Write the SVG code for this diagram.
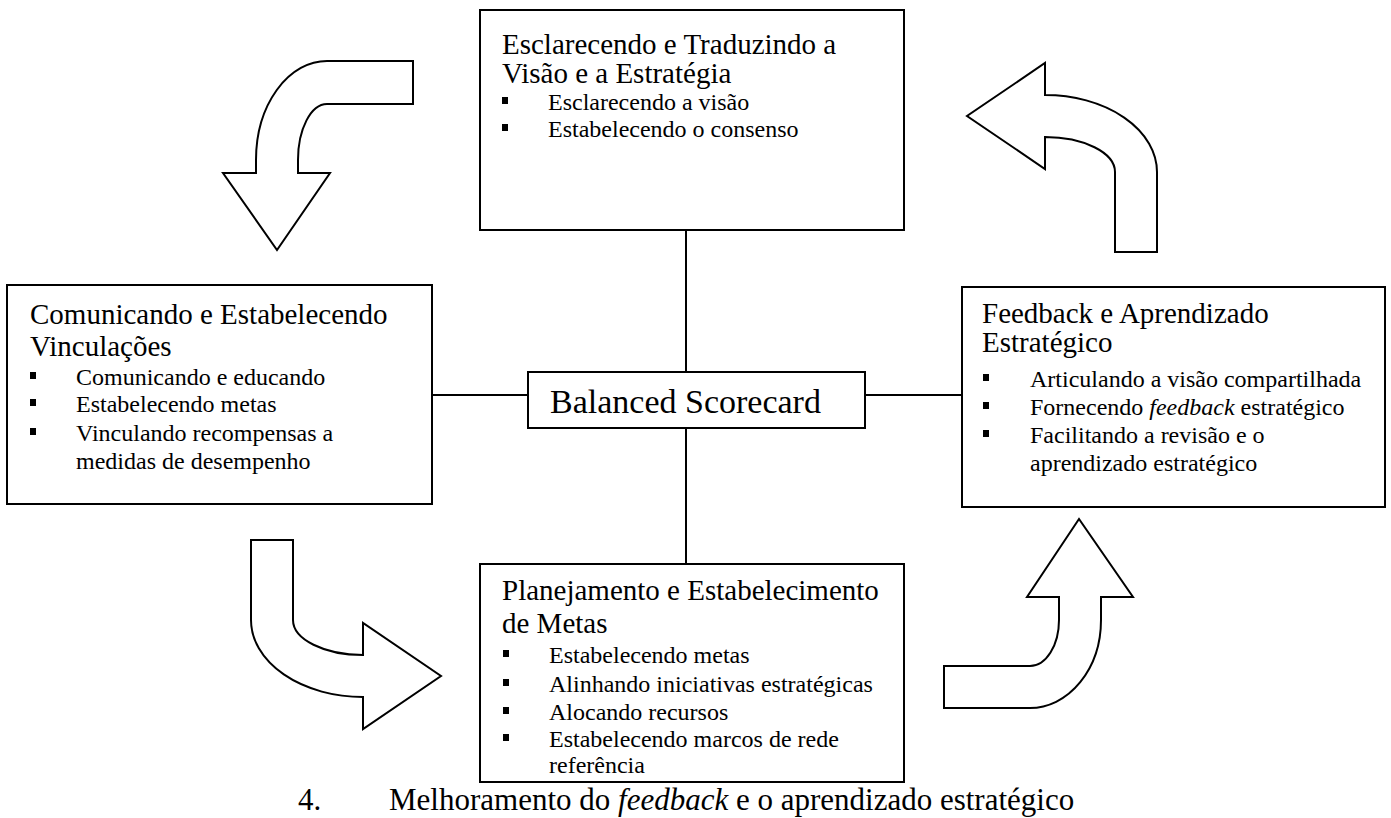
<svg xmlns="http://www.w3.org/2000/svg" width="1391" height="818" viewBox="0 0 1391 818">
  <style>
    .bsc-box { fill: #ffffff; stroke: #000000; stroke-width: 2; }
    .bsc-link { stroke: #000000; stroke-width: 2; fill: none; }
    .bsc-arrow { fill: #ffffff; stroke: #000000; stroke-width: 2; stroke-linejoin: miter; }
    .bsc-dot { fill: #000000; }
    text { font-family: "Liberation Serif", "Times New Roman", serif; fill: #000000; }
    .bsc-head { font-size: 29px; }
    .bsc-line { font-size: 24px; }
    .bsc-core { font-size: 34px; }
    .bsc-cap { font-size: 31px; }
    .em { font-style: italic; }
  </style>
  <rect width="1391" height="818" fill="#ffffff"/>

  <!-- connectors from the central scorecard to the four processes -->
  <g id="connectors">
    <line class="bsc-link" x1="686" y1="230" x2="686" y2="372"/>
    <line class="bsc-link" x1="686" y1="428" x2="686" y2="564"/>
    <line class="bsc-link" x1="432" y1="395" x2="528" y2="395"/>
    <line class="bsc-link" x1="865" y1="395" x2="962" y2="395"/>
  </g>

  <!-- curved arrows showing the clockwise cycle -->
  <g id="cycle-arrows">
    <path class="bsc-arrow" d="M413,61 H327 A71,99 0 0 0 256,160 V173 H223 L277,250 L330,173 H298 V160 A29,56 0 0 1 327,104 H413 Z"/>
    <path class="bsc-arrow" d="M251,540 H293 V620 A70,35 0 0 0 363,655 V623 L441,676 L363,729 V697 A112,77 0 0 1 251,620 Z"/>
    <path class="bsc-arrow" d="M944,708 V666 H1030 A29,46 0 0 0 1059,620 V597 H1027 L1079,519 L1133,597 H1101 V620 A71,88 0 0 1 1030,708 Z"/>
    <path class="bsc-arrow" d="M1157,252 H1115 V172 A70,35 0 0 0 1045,137 V169 L967,116 L1045,63 V95 A112,77 0 0 1 1157,172 Z"/>
  </g>

  <g id="box-vision">
    <rect class="bsc-box" x="480" y="10" width="424" height="220"/>
    <text class="bsc-head" x="502" y="54">Esclarecendo e Traduzindo a</text>
    <text class="bsc-head" x="502" y="83">Visão e a Estratégia</text>
    <rect class="bsc-dot" x="502" y="97" width="6" height="7"/>
    <text class="bsc-line" x="548" y="110">Esclarecendo a visão</text>
    <rect class="bsc-dot" x="502" y="124" width="6" height="7"/>
    <text class="bsc-line" x="548" y="137">Estabelecendo o consenso</text>
  </g>

  <g id="box-communication">
    <rect class="bsc-box" x="7" y="285" width="425" height="219"/>
    <text class="bsc-head" x="30" y="324">Comunicando e Estabelecendo</text>
    <text class="bsc-head" x="30" y="356">Vinculações</text>
    <rect class="bsc-dot" x="30" y="372" width="6" height="7"/>
    <text class="bsc-line" x="76" y="385">Comunicando e educando</text>
    <rect class="bsc-dot" x="30" y="399" width="6" height="7"/>
    <text class="bsc-line" x="76" y="412">Estabelecendo metas</text>
    <rect class="bsc-dot" x="30" y="428" width="6" height="7"/>
    <text class="bsc-line" x="76" y="441">Vinculando recompensas a</text>
    <text class="bsc-line" x="76" y="469">medidas de desempenho</text>
  </g>

  <g id="box-scorecard">
    <rect class="bsc-box" x="528" y="372" width="337" height="56"/>
    <text class="bsc-core" x="550" y="413">Balanced Scorecard</text>
  </g>

  <g id="box-feedback">
    <rect class="bsc-box" x="962" y="287" width="423" height="220"/>
    <text class="bsc-head" x="982" y="323">Feedback e Aprendizado</text>
    <text class="bsc-head" x="982" y="352">Estratégico</text>
    <rect class="bsc-dot" x="983" y="374" width="6" height="7"/>
    <text class="bsc-line" x="1030" y="387">Articulando a visão compartilhada</text>
    <rect class="bsc-dot" x="983" y="402" width="6" height="7"/>
    <text class="bsc-line" x="1030" y="415">Fornecendo <tspan class="em">feedback</tspan> estratégico</text>
    <rect class="bsc-dot" x="983" y="430" width="6" height="7"/>
    <text class="bsc-line" x="1030" y="443">Facilitando a revisão e o</text>
    <text class="bsc-line" x="1030" y="471">aprendizado estratégico</text>
  </g>

  <g id="box-planning">
    <rect class="bsc-box" x="480" y="564" width="424" height="218"/>
    <text class="bsc-head" x="502" y="600">Planejamento e Estabelecimento</text>
    <text class="bsc-head" x="502" y="633">de Metas</text>
    <rect class="bsc-dot" x="503" y="650" width="6" height="7"/>
    <text class="bsc-line" x="549" y="663">Estabelecendo metas</text>
    <rect class="bsc-dot" x="503" y="679" width="6" height="7"/>
    <text class="bsc-line" x="549" y="692">Alinhando iniciativas estratégicas</text>
    <rect class="bsc-dot" x="503" y="707" width="6" height="7"/>
    <text class="bsc-line" x="549" y="720">Alocando recursos</text>
    <rect class="bsc-dot" x="503" y="734" width="6" height="7"/>
    <text class="bsc-line" x="549" y="747">Estabelecendo marcos de rede</text>
    <text class="bsc-line" x="549" y="773">referência</text>
  </g>

  <g id="caption">
    <text class="bsc-cap" x="298" y="810">4.</text>
    <text class="bsc-cap" x="389" y="810">Melhoramento do <tspan class="em">feedback</tspan> e o aprendizado estratégico</text>
  </g>
</svg>
